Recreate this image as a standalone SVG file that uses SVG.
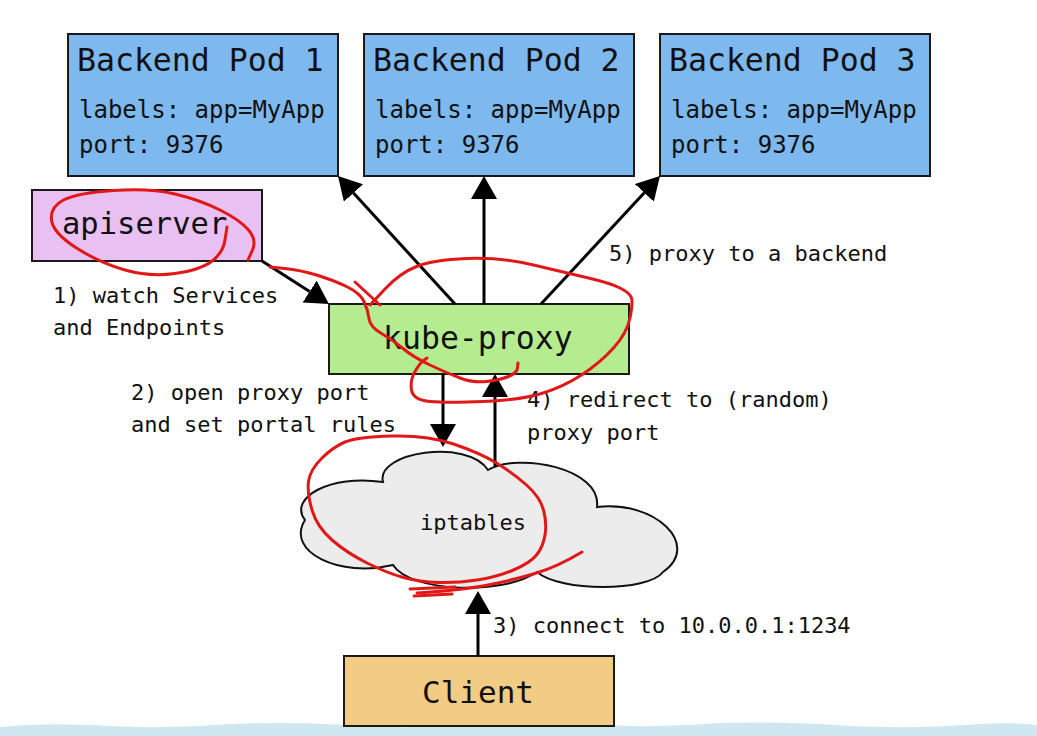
<svg xmlns="http://www.w3.org/2000/svg" width="1037" height="736" viewBox="0 0 1037 736">
<style>
text{font-family:"DejaVu Sans Mono","Liberation Mono",monospace;fill:#111}
.box{stroke:#1a1a1a;stroke-width:2}
.pod{fill:#7db8ee}
.t{font-size:31.5px}
.s{font-size:24px}
.l{font-size:22px}
.c{stroke:#000;stroke-width:3;fill:none}
.red{stroke:#e01818;stroke-width:3;fill:none;stroke-linecap:round;stroke-linejoin:round}
</style>
<defs>
<marker id="ah" markerUnits="userSpaceOnUse" markerWidth="23" markerHeight="26" viewBox="0 0 23 26" refX="0" refY="13" orient="auto">
<path d="M0,0 L23,13 L0,26 Z" fill="#000"/>
</marker>
</defs>
<rect width="1037" height="736" fill="#fff"/>
<path d="M0,736 L0,727 Q50,722 110,726 Q170,729 230,724 Q300,721 360,726 Q420,729 480,724 Q540,720 600,725 Q660,728 720,723 Q790,721 850,726 Q920,729 980,724 Q1010,722 1037,725 L1037,736 Z" fill="#cfe7f1"/>

<g id="pod1"><rect class="box pod" x="68" y="34" width="270" height="142"/>
<text class="t" x="77" y="71">Backend Pod 1</text>
<text class="s" x="79" y="118">labels: app=MyApp</text>
<text class="s" x="79" y="153">port: 9376</text></g>
<g id="pod2"><rect class="box pod" x="364" y="34" width="270" height="142"/>
<text class="t" x="373" y="71">Backend Pod 2</text>
<text class="s" x="375" y="118">labels: app=MyApp</text>
<text class="s" x="375" y="153">port: 9376</text></g>
<g id="pod3"><rect class="box pod" x="660" y="34" width="270" height="142"/>
<text class="t" x="669" y="71">Backend Pod 3</text>
<text class="s" x="671" y="118">labels: app=MyApp</text>
<text class="s" x="671" y="153">port: 9376</text></g>
<g id="apiserver"><rect class="box" x="32" y="190" width="230" height="71" fill="#e8c0f2"/>
<text x="62" y="234" style="font-size:30.5px">apiserver</text></g>
<g id="kube-proxy"><rect class="box" x="329" y="304" width="300" height="70" fill="#b6ec90"/>
<text class="t" x="383" y="349">kube-proxy</text></g>
<g id="iptables"><path d="M383,482 C375,452 468,438 488,470 C518,452 602,468 597,507 C655,500 702,545 663,572 C648,592 560,592 537,572 C502,596 410,592 393,565 C340,578 285,552 305,520 C288,498 330,474 383,482 Z" fill="#ececec" stroke="#111" stroke-width="2"/>
<text class="l" x="420" y="530">iptables</text></g>
<g id="client"><rect class="box" x="344" y="656" width="270" height="70" fill="#f2cb84"/>
<text x="422" y="703" style="font-size:31px">Client</text></g>

<g id="connectors">
<line class="c" x1="262" y1="261" x2="309.6" y2="291.6" marker-end="url(#ah)"/>
<line class="c" x1="455" y1="304" x2="353.5" y2="193" marker-end="url(#ah)"/>
<line class="c" x1="484" y1="304" x2="484" y2="199" marker-end="url(#ah)"/>
<line class="c" x1="541" y1="304" x2="644.3" y2="192.8" marker-end="url(#ah)"/>
<line class="c" x1="443" y1="374" x2="443" y2="424" marker-end="url(#ah)"/>
<line class="c" x1="495" y1="466" x2="495" y2="397" marker-end="url(#ah)"/>
<line class="c" x1="478" y1="656" x2="478" y2="614" marker-end="url(#ah)"/>
</g>

<g id="labels">
<text class="l" x="53" y="303">1) watch Services</text>
<text class="l" x="53" y="335">and Endpoints</text>
<text class="l" x="131" y="400">2) open proxy port</text>
<text class="l" x="131" y="432">and set portal rules</text>
<text class="l" x="527" y="407">4) redirect to (random)</text>
<text class="l" x="527" y="440">proxy port</text>
<text class="l" x="609" y="261">5) proxy to a backend</text>
<text class="l" x="493" y="633">3) connect to 10.0.0.1:1234</text>
</g>

<g id="annotations">
<path class="red" d="M227,227 L225,240 Q223,253 211.5,261.5 Q200,270 175,273.5 Q150,277 125,270 Q100,263 76.5,248 Q53,233 51.5,220 Q50,207 63.5,200 Q77,193 113.5,190.5 Q150,188 175,194 Q200,200 220,210 Q240,220 248.5,230 Q257,240 252.5,250 L248,260"/>
<path class="red" d="M270,267 L285,268.5 Q300,270 316.5,275 Q333,280 346.5,286.5 Q360,293 364,301.5 Q368,310 369,318.5 Q370,327 381.5,333.5 Q393,340 403,348.5 Q413,357 430,365 Q447,373 460,378 Q473,383 486.5,381.5 Q500,380 508.5,376.5 Q517,373 517.5,368 L518,363"/>
<path class="red" d="M370,305 L385,289 Q400,273 416.5,266.5 Q433,260 466.5,258.5 Q500,257 533.5,265 Q567,273 588.5,278 Q610,283 620,288 Q630,293 631.5,298 Q633,303 630,318 Q627,333 613.5,348 Q600,363 581.5,375 Q563,387 541.5,393.5 Q520,400 483.5,401.5 Q447,403 430,401.5 Q413,400 411.5,390 Q410,380 415,371.5 Q420,363 423.5,360.5 L427,358"/>
<path class="red" d="M355,282 L380,305"/>
<path class="red" d="M392,436 Q427,435 453.5,444 Q480,453 496.5,463 Q513,473 526.5,485 Q540,497 543.5,510 Q547,523 545,535 Q543,547 536.5,555 Q530,563 513.5,570 Q497,577 477,580 Q457,583 438.5,582.5 Q420,582 403.5,577.5 Q387,573 367,563 Q347,553 332,540 Q317,527 312,510 Q307,493 308.5,481.5 Q310,470 321.5,458.5 Q333,447 345,442 Q357,437 392,436"/>
<path class="red" d="M417,593 Q463,590 488,585 Q513,580 535,573.5 Q557,567 582,552"/>
<path class="red" d="M410,589 L455,587 M414,596 L452,594"/>
</g>
</svg>
